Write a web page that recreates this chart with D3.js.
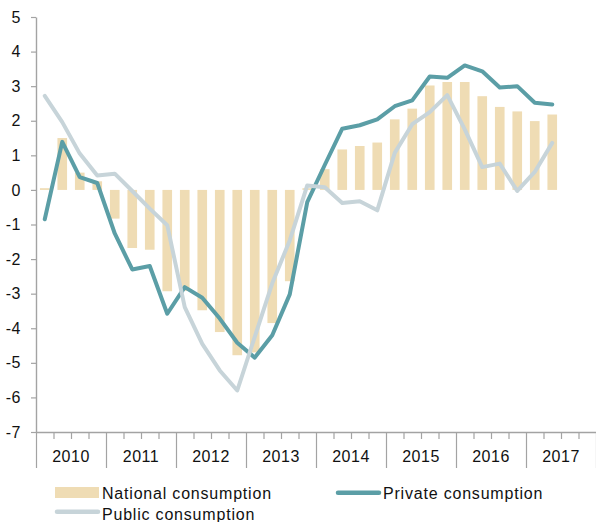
<!DOCTYPE html>
<html>
<head>
<meta charset="utf-8">
<script src="https://cdn.jsdelivr.net/npm/d3@7/dist/d3.min.js"></script>
<style>
  html, body { margin: 0; padding: 0; background: #fff; }
  svg { display: block; font-family: "Liberation Sans", Arial, sans-serif; }
</style>
</head>
<body>
<svg id="chart" width="596" height="522"></svg>
<script>
// ---- Data ----
const years = ["2010", "2011", "2012", "2013", "2014", "2015", "2016", "2017"];
const quarterNames = ["Q1", "Q2", "Q3", "Q4"];
const quarters = years.flatMap(yr => quarterNames.map(q => yr + q));

const nationalConsumption = [
  0.05, 1.50, 0.50, 0.25, -0.83, -1.68, -1.73, -2.93,
  -2.92, -3.48, -4.11, -4.78, -4.70, -3.85, -2.64, 0.05,
  0.60, 1.17, 1.27, 1.37, 2.04, 2.35, 3.02, 3.12,
  3.12, 2.71, 2.40, 2.27, 1.99, 2.18
];
const privateConsumption = [
  -0.85, 1.39, 0.37, 0.20, -1.26, -2.30, -2.20, -3.58,
  -2.81, -3.12, -3.72, -4.42, -4.85, -4.20, -3.02, -0.35,
  0.72, 1.77, 1.87, 2.04, 2.42, 2.59, 3.28, 3.24,
  3.60, 3.43, 2.96, 3.00, 2.52, 2.47
];
const publicConsumption = [
  2.72, 1.96, 1.05, 0.42, 0.47, -0.03, -0.54, -1.02,
  -3.39, -4.45, -5.22, -5.80, -4.25, -2.70, -1.46, 0.13,
  0.08, -0.38, -0.33, -0.59, 1.07, 1.90, 2.25, 2.74,
  1.75, 0.66, 0.76, -0.03, 0.52, 1.36
];
const yTicks = [-7, -6, -5, -4, -3, -2, -1, 0, 1, 2, 3, 4, 5];
const legendLabels = ["National consumption", "Private consumption", "Public consumption"];

(function () {
  // ---- Styles ----
  const colBar = "#efdcb4";
  const colPrivate = "#5b9ea6";
  const colPublic = "#c7d4d9";
  const colAxis = "#a3a3a3";

  const svg = d3.select("#chart");
  const mLeft = 36, mRight = 596, mTop = 17, mBottom = 432;

  const x = d3.scaleBand().domain(quarters).range([mLeft, mRight])
    .paddingInner(0.45).paddingOuter(0.225);
  const xq = d3.scaleLinear().domain([0, quarters.length]).range([mLeft, mRight]);
  const xYear = d3.scaleBand().domain(years).range([mLeft, mRight]);
  const y = d3.scaleLinear().domain([-7, 5]).range([mBottom, mTop]);

  // Bars
  svg.append("g").selectAll("rect")
    .data(nationalConsumption)
    .join("rect")
    .attr("x", (d, i) => x(quarters[i]))
    .attr("width", x.bandwidth())
    .attr("y", d => y(Math.max(0, d)))
    .attr("height", d => Math.abs(y(d) - y(0)))
    .attr("fill", colBar);

  // Lines
  const line = d3.line()
    .x((d, i) => x(quarters[i]) + x.bandwidth() / 2)
    .y(d => y(d));

  svg.append("path").datum(privateConsumption)
    .attr("d", line).attr("fill", "none")
    .attr("stroke", colPrivate).attr("stroke-width", 4)
    .attr("stroke-linejoin", "round").attr("stroke-linecap", "round");

  svg.append("path").datum(publicConsumption)
    .attr("d", line).attr("fill", "none")
    .attr("stroke", colPublic).attr("stroke-width", 4)
    .attr("stroke-linejoin", "round").attr("stroke-linecap", "round");

  // Y axis
  const yAxis = svg.append("g").attr("transform", `translate(${mLeft},0)`)
    .call(d3.axisLeft(y).tickValues(yTicks).tickSize(5).tickSizeOuter(0)
      .tickPadding(10).tickFormat(d => String(d)));
  yAxis.select(".domain").attr("stroke", colAxis).attr("stroke-width", 1.4);
  yAxis.selectAll(".tick line").attr("stroke", colAxis).attr("stroke-width", 1.2);
  yAxis.selectAll(".tick text").attr("font-size", 16).attr("fill", "#111")
    .attr("letter-spacing", 0.5);

  // X axis: minor + major ticks
  const minorVals = d3.range(0, quarters.length + 1).filter(v => v % 4 !== 0);
  const majorVals = d3.range(0, quarters.length + 1, 4);
  const xMinor = svg.append("g").attr("transform", `translate(0,${mBottom})`)
    .call(d3.axisBottom(xq).tickValues(minorVals).tickSize(7).tickSizeOuter(0).tickFormat(""));
  xMinor.select(".domain").attr("stroke", colAxis).attr("stroke-width", 1.4);
  xMinor.selectAll(".tick line").attr("stroke", colAxis).attr("stroke-width", 1.2);

  const xMajor = svg.append("g").attr("transform", `translate(0,${mBottom})`)
    .call(d3.axisBottom(xq).tickValues(majorVals).tickSize(36).tickSizeOuter(0).tickFormat(""));
  xMajor.select(".domain").remove();
  xMajor.selectAll(".tick line").attr("stroke", colAxis).attr("stroke-width", 1.2);

  const xLabels = svg.append("g").attr("transform", `translate(0,${mBottom})`)
    .call(d3.axisBottom(xYear).tickSize(0).tickPadding(19));
  xLabels.select(".domain").remove();
  xLabels.selectAll(".tick text").attr("font-size", 16).attr("fill", "#111")
    .attr("letter-spacing", 0.5);

  // Legend
  const lg = svg.append("g").attr("font-size", 16).attr("fill", "#111");
  lg.append("rect").attr("x", 55).attr("y", 487).attr("width", 44).attr("height", 11).attr("fill", colBar);
  lg.append("text").attr("x", 102).attr("y", 498.5).attr("letter-spacing", 0.8).text(legendLabels[0]);

  lg.append("line").attr("x1", 338).attr("x2", 379).attr("y1", 492.7).attr("y2", 492.7)
    .attr("stroke", colPrivate).attr("stroke-width", 4.5).attr("stroke-linecap", "round");
  lg.append("text").attr("x", 383).attr("y", 498.5).attr("letter-spacing", 0.8).text(legendLabels[1]);

  lg.append("line").attr("x1", 57).attr("x2", 98).attr("y1", 511.7).attr("y2", 511.7)
    .attr("stroke", colPublic).attr("stroke-width", 4.5).attr("stroke-linecap", "round");
  lg.append("text").attr("x", 102).attr("y", 520).attr("letter-spacing", 0.8).text(legendLabels[2]);
})();
</script>
</body>
</html>
